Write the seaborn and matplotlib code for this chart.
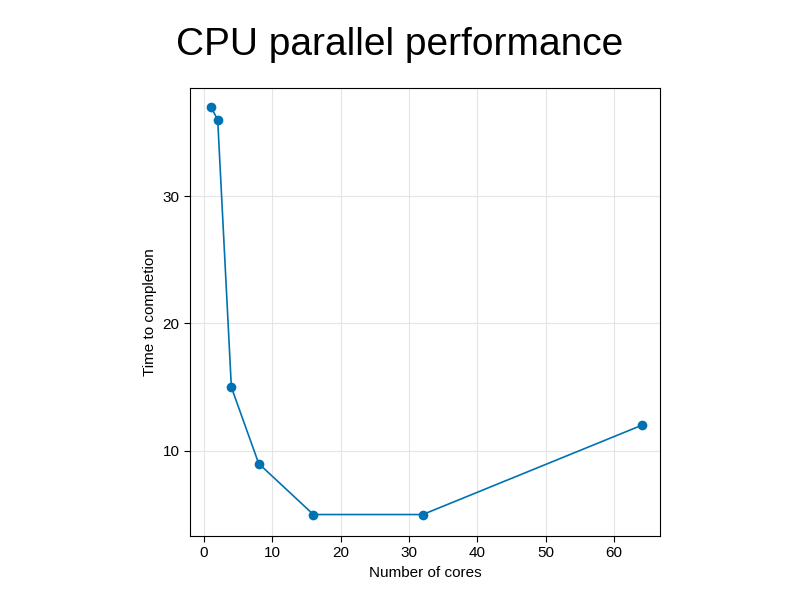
import matplotlib
matplotlib.use("Agg")
import matplotlib.pyplot as plt
import seaborn as sns
import pandas as pd

cores = [1, 2, 4, 8, 16, 32, 64]
times = [37, 36, 15, 9, 5, 5, 12]

sns.set_style("white")
plt.rcParams['font.family'] = ['Liberation Sans', 'DejaVu Sans']
plt.rcParams['text.color'] = 'black'
plt.rcParams['axes.labelcolor'] = 'black'
plt.rcParams['xtick.color'] = 'black'
plt.rcParams['ytick.color'] = 'black'

df = pd.DataFrame({"cores": cores, "time": times})

fig = plt.figure(figsize=(8, 6), dpi=100)
ax = fig.add_axes([0.2375, 0.107, 0.5875, 0.746])
sns.lineplot(data=df, x="cores", y="time", ax=ax, color="#0072b2", linewidth=1.2,
             marker="o", markersize=7, markeredgewidth=0)
ax.set_xlim(-2.05, 66.7)
ax.set_ylim(3.33, 38.47)
ax.set_xticks([0, 10, 20, 30, 40, 50, 60])
ax.set_yticks([10, 20, 30])
ax.grid(True, color="#e5e5e5", linewidth=0.8)
ax.tick_params(direction="out", length=4, labelsize=11, left=True, bottom=True)
for s in ax.spines.values():
    s.set_color("black")
    s.set_linewidth(0.8)
ax.set_xlabel("Number of cores", fontsize=11)
ax.set_ylabel("Time to completion", fontsize=11)
fig.suptitle("CPU parallel performance", fontsize=28, y=0.955, color="black")
fig.savefig("out.png", dpi=100)
